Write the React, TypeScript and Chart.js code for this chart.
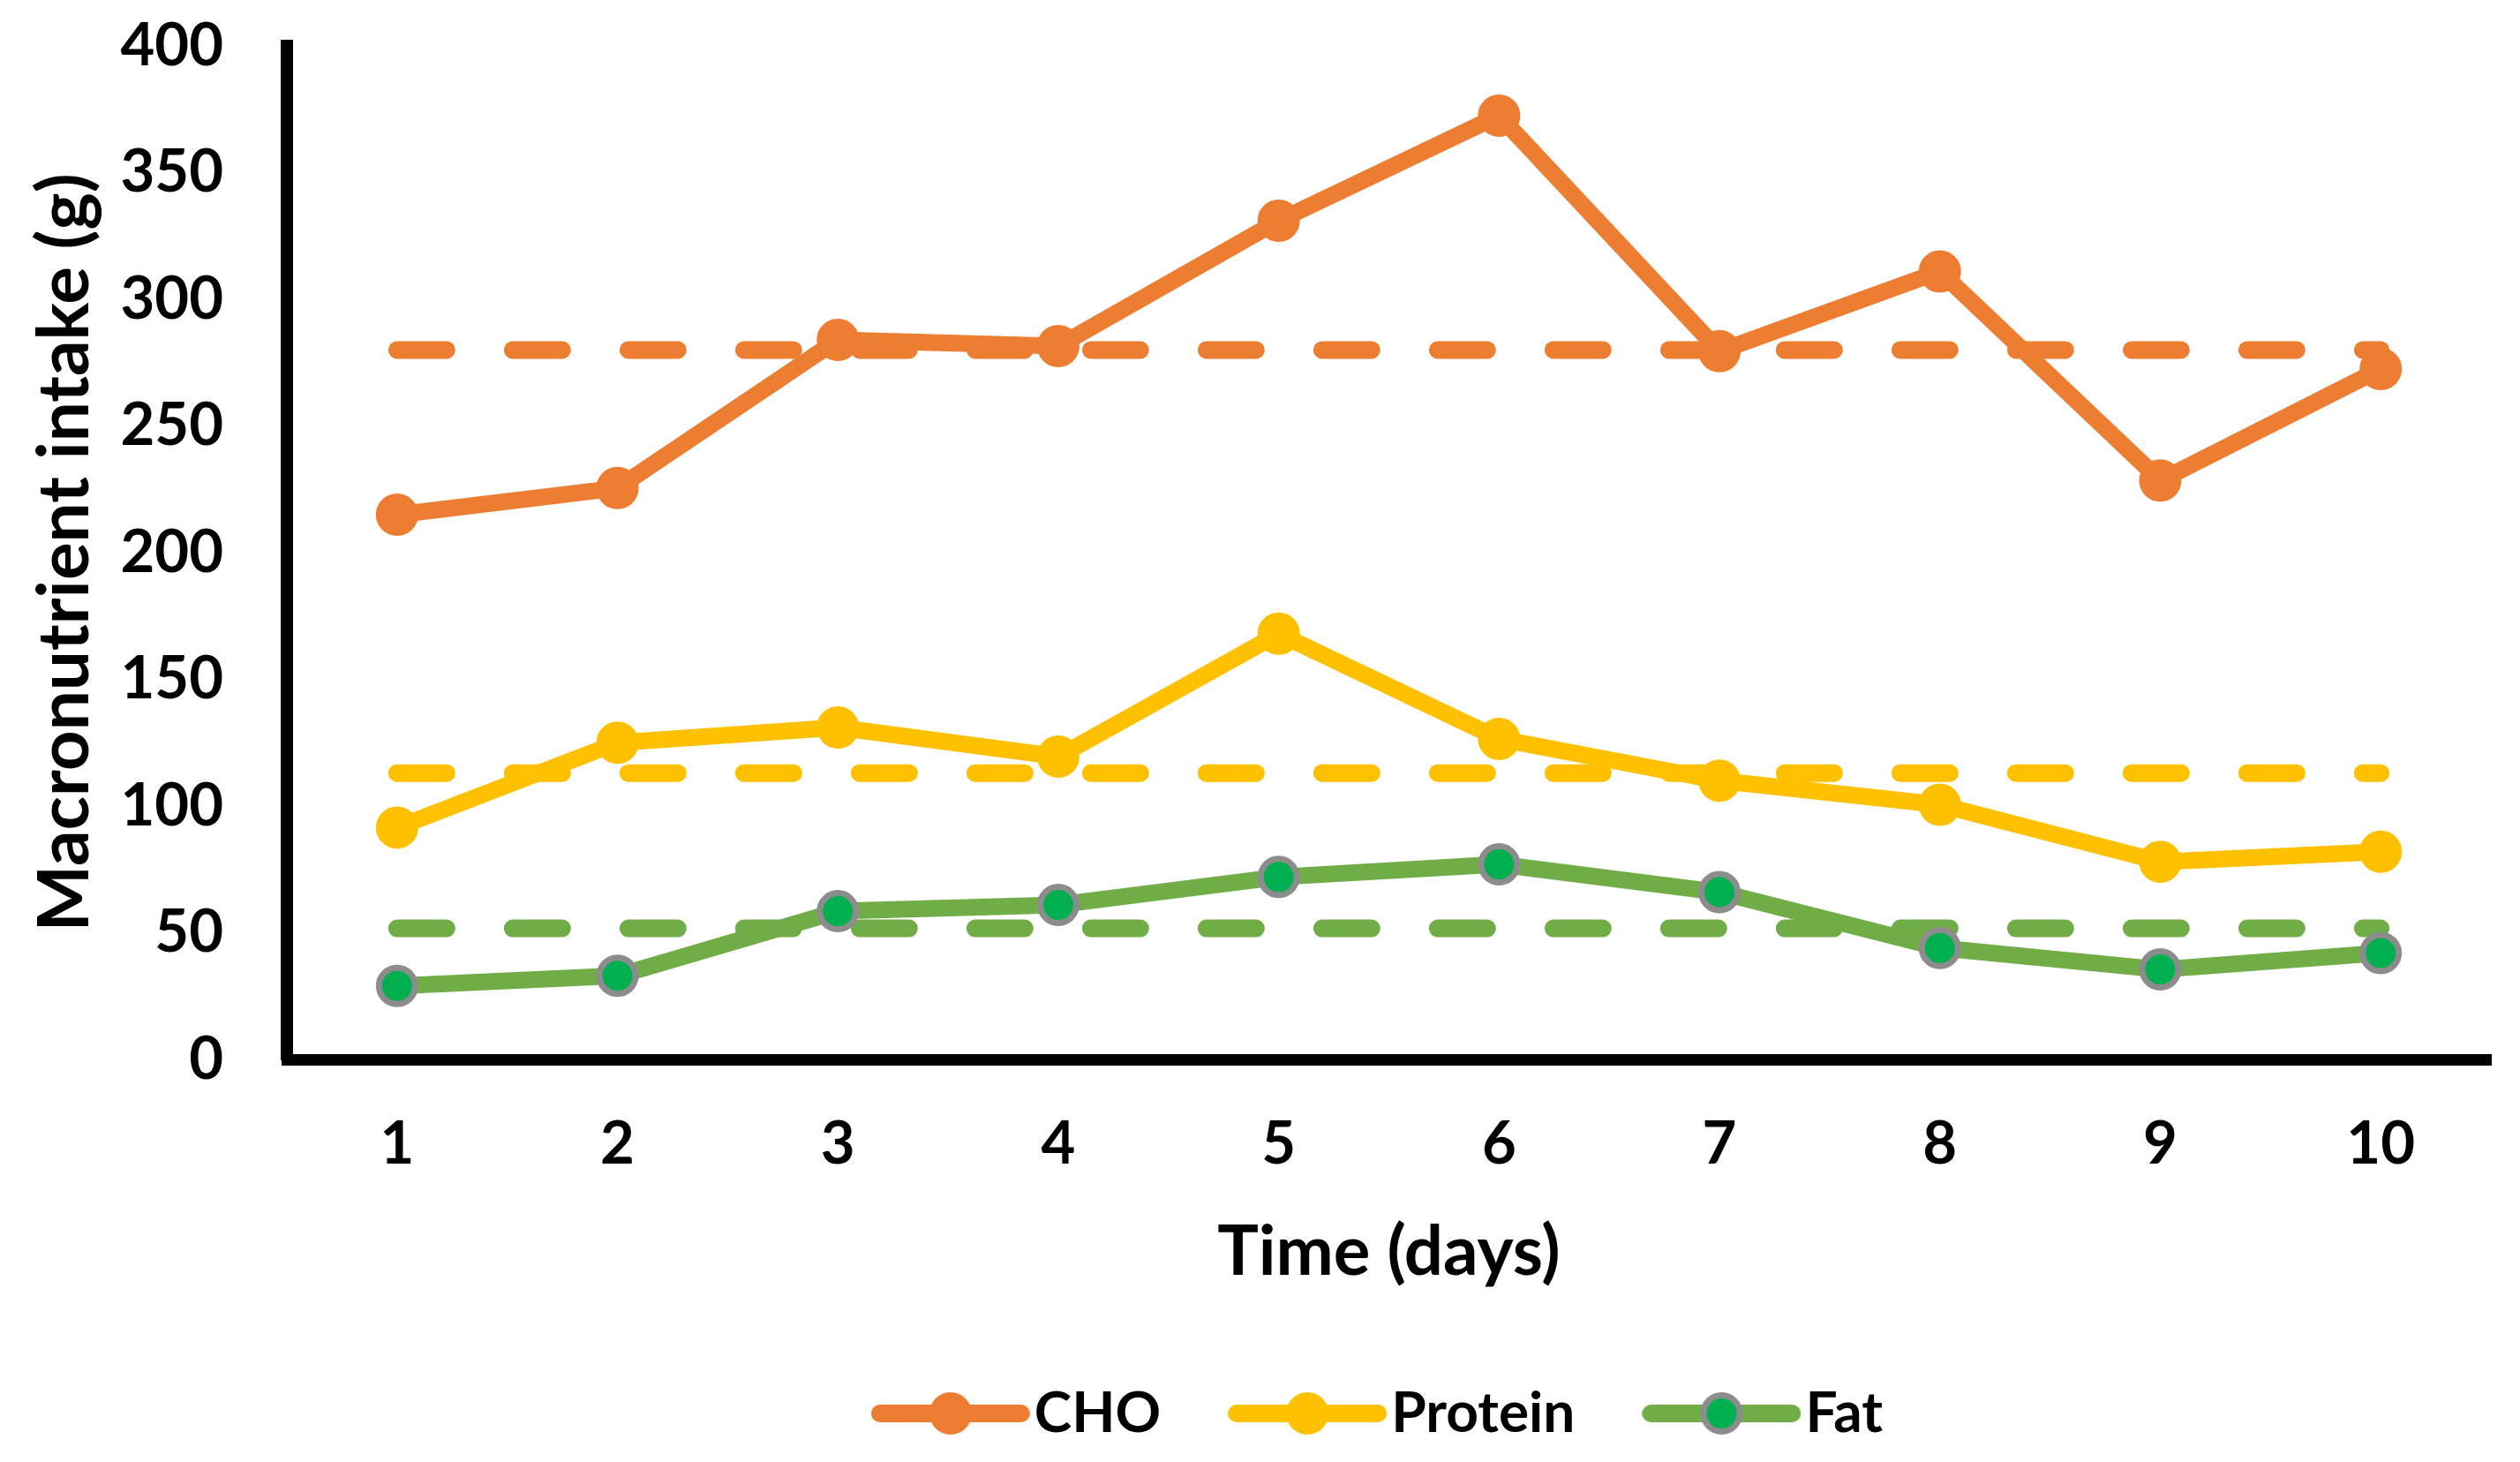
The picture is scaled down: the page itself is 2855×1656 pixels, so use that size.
import React, { useEffect, useRef } from "react";
import { Chart, registerables } from "chart.js";

Chart.register(...registerables);

// ---------- data ----------
const days = ["1", "2", "3", "4", "5", "6", "7", "8", "9", "10"];
const choValues = [215, 225.5, 284, 281.5, 331, 372.5, 279.5, 311, 228.5, 272.5];
const proteinValues = [91.5, 125, 131, 119.5, 168, 126.5, 110, 100.5, 78, 82];
const fatValues = [29, 33, 58.5, 61, 72, 77, 66, 44, 35.5, 42];
const choMean = 280;
const proteinMean = 113;
const fatMean = 51.7;
const yTicks = [0, 50, 100, 150, 200, 250, 300, 350, 400];
const seriesNames = ["CHO", "Protein", "Fat"];
const xTitle = "Time (days)";
const yTitle = "Macronutrient intake (g)";

// ---------- styles ----------
const ORANGE = "#ED7D31";
const YELLOW = "#FFC000";
const GREEN_LINE = "#70AD47";
const GREEN_FILL = "#00B050";
const GREY = "#8C8C8C";
const FONT = "Lato";
const LEGEND_PAD = 103;

function makeIcon(line: string, fill: string, border: string, bw: number, r: number) {
  const c = document.createElement("canvas");
  c.width = 180;
  c.height = 50;
  const ctx = c.getContext("2d")!;
  ctx.strokeStyle = line;
  ctx.lineWidth = 20;
  ctx.lineCap = "round";
  ctx.beginPath();
  ctx.moveTo(10, 25);
  ctx.lineTo(170, 25);
  ctx.stroke();
  ctx.beginPath();
  ctx.arc(90, 25, r, 0, Math.PI * 2);
  ctx.fillStyle = fill;
  ctx.fill();
  ctx.lineWidth = bw;
  ctx.strokeStyle = border;
  ctx.stroke();
  return c;
}

export default function App() {
  const ref = useRef<HTMLCanvasElement | null>(null);

  useEffect(() => {
    let chart: Chart | null = null;
    let cancelled = false;
    const build = () => {
      if (cancelled || !ref.current) return;
      const icons = [
        makeIcon(ORANGE, ORANGE, ORANGE, 2, 23),
        makeIcon(YELLOW, YELLOW, YELLOW, 2, 23),
        makeIcon(GREEN_LINE, GREEN_FILL, GREY, 7, 20.5),
      ];
      const tickFont = { family: FONT, size: 67, weight: "bold" as const };
      const legendFont = { family: FONT, size: 64, weight: "bold" as const };
      const seriesBase = {
        borderWidth: 19,
        pointRadius: 23,
        pointHoverRadius: 23,
        pointBorderWidth: 2,
        tension: 0,
        borderJoinStyle: "round" as const,
      };
      const meanBase = {
        borderWidth: 20,
        borderDash: [56, 75],
        borderCapStyle: "round" as const,
        pointRadius: 0,
        pointHoverRadius: 0,
        tension: 0,
      };
      chart = new Chart(ref.current, {
        type: "line",
        data: {
          labels: days,
          datasets: [
            {
              ...seriesBase,
              label: seriesNames[0],
              data: choValues,
              borderColor: ORANGE,
              backgroundColor: ORANGE,
              pointBackgroundColor: ORANGE,
              pointBorderColor: ORANGE,
            },
            {
              ...seriesBase,
              label: seriesNames[1],
              data: proteinValues,
              borderColor: YELLOW,
              backgroundColor: YELLOW,
              pointBackgroundColor: YELLOW,
              pointBorderColor: YELLOW,
            },
            {
              ...seriesBase,
              label: seriesNames[2],
              data: fatValues,
              borderColor: GREEN_LINE,
              backgroundColor: GREEN_FILL,
              pointBackgroundColor: GREEN_FILL,
              pointBorderColor: GREY,
              pointRadius: 20.5,
              pointHoverRadius: 20.5,
              pointBorderWidth: 7,
            },
            { ...meanBase, label: "CHO mean", data: days.map(() => choMean), borderColor: ORANGE },
            { ...meanBase, label: "Protein mean", data: days.map(() => proteinMean), borderColor: YELLOW },
            { ...meanBase, label: "Fat mean", data: days.map(() => fatMean), borderColor: GREEN_LINE },
          ],
        },
        options: {
          responsive: false,
          animation: false,
          devicePixelRatio: 1,
          events: [],
          layout: { padding: { top: 52, right: 33, bottom: 13, left: 0 } },
          plugins: {
            tooltip: { enabled: false },
            legend: {
              position: "bottom",
              fullSize: false,
              labels: {
                usePointStyle: true,
                pointStyleWidth: 126,
                padding: LEGEND_PAD,
                color: "#000",
                font: legendFont,
                filter: (item) => (item.datasetIndex ?? 0) < 3,
                generateLabels: (ch) => {
                  const items = Chart.defaults.plugins.legend.labels.generateLabels(ch);
                  return items.map((it, i) => (i < 3 ? { ...it, pointStyle: icons[i] as any } : it));
                },
              },
            },
          },
          scales: {
            x: {
              offset: true,
              grid: { display: false, drawTicks: false },
              border: { display: true, color: "#000", width: 13 },
              ticks: { color: "#000", font: tickFont, padding: 56, maxRotation: 0 },
              title: {
                display: true,
                text: xTitle,
                color: "#000",
                font: { family: FONT, size: 78, weight: "bold" },
                padding: { top: 0, bottom: 103.5 - LEGEND_PAD },
              },
              afterFit: (s: any) => {
                s.height = 369 - LEGEND_PAD;
              },
            },
            y: {
              min: 0,
              max: 400,
              grid: { display: false, drawTicks: false },
              border: { display: true, color: "#000", width: 14 },
              ticks: { color: "#000", font: tickFont, padding: 72, stepSize: 50 },
              afterBuildTicks: (s: any) => {
                s.ticks = yTicks.map((v) => ({ value: v }));
              },
              title: {
                display: true,
                text: yTitle,
                color: "#000",
                font: { family: FONT, size: 80, weight: "bold" },
                padding: { top: 26, bottom: 0 },
              },
              afterFit: (s: any) => {
                s.width = 325;
                s.paddingTop = 0;
                s.paddingBottom = 0;
              },
            },
          },
        },
      });
    };
    const fontsReady = (document as any).fonts
      ? Promise.all([
          (document as any).fonts.load(`bold 67px ${FONT}`),
          (document as any).fonts.load(`bold 80px ${FONT}`),
        ]).catch(() => undefined)
      : Promise.resolve();
    fontsReady.then(build);
    return () => {
      cancelled = true;
      if (chart) chart.destroy();
    };
  }, []);

  return (
    <div style={{ position: "fixed", left: 0, top: 0, width: 2855, height: 1656, background: "#fff" }}>
      <canvas ref={ref} width={2855} height={1656} style={{ display: "block", width: 2855, height: 1656 }} />
    </div>
  );
}
